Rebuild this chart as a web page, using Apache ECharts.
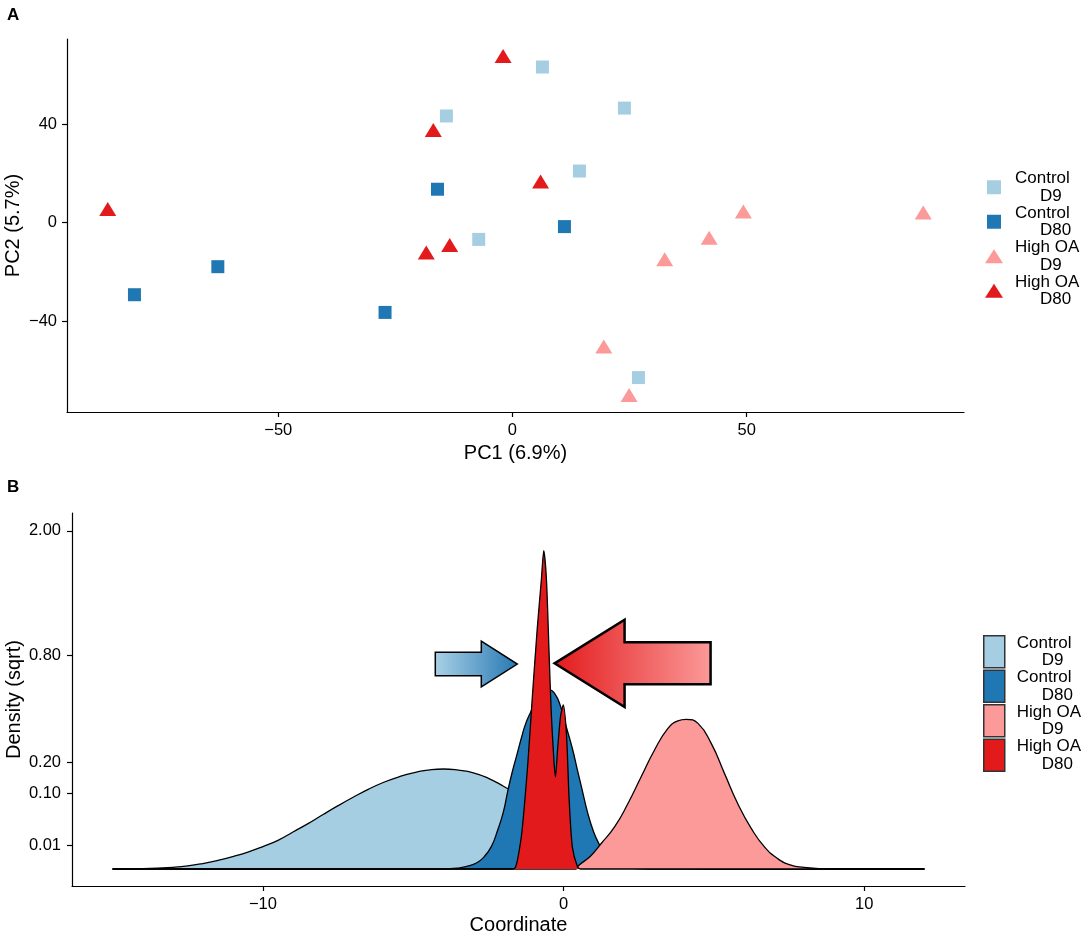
<!DOCTYPE html>
<html>
<head>
<meta charset="utf-8">
<title>PCA and density</title>
<script src="https://cdn.jsdelivr.net/npm/echarts@6.0.0/dist/echarts.min.js"></script>
<style>
  html, body { margin: 0; padding: 0; background: #fff; }
  #main { width: 1083px; height: 934px; }
</style>
</head>
<body>
<div id="main"></div>
<script>
// group names, shown on two lines in the legends
var groups = ['Control\nD9', 'Control\nD80', 'High OA\nD9', 'High OA\nD80'];

// panel A: PCA scores
var ctlD9PC1 = [-14.1, -7.2, 6.4, 23.9, 14.3, 26.9];
var ctlD9PC2 = [43.4, -6.8, 63.3, 46.6, 21.0, -63.0];
var ctlD80PC1 = [-80.7, -62.9, -27.2, -16.0, 11.1];
var ctlD80PC2 = [-29.3, -17.9, -36.5, 13.6, -1.6];
var oaD9PC1 = [49.3, 87.7, 42.0, 32.5, 19.5, 24.9];
var oaD9PC2 = [4.5, 4.1, -6.1, -14.9, -50.4, -70.1];
var oaD80PC1 = [-86.4, -16.9, -18.4, -13.4, -2.0, 6.0];
var oaD80PC2 = [5.6, 37.7, -12.1, -9.1, 67.8, 16.7];

// panel B: density curves (coordinate, density)
var ctlD9X = [-15, -14.5, -14, -13.5, -13, -12.5, -12, -11.5, -11, -10.5, -10, -9.5, -9, -8.5, -8, -7.5, -7, -6.5, -6,
              -5.5, -5, -4.5, -4, -3.5, -3, -2.5, -2, -1.5, -1, -0.5, 0, 0.5, 1, 1.5, 2, 2.5, 3, 3.5, 4, 4.5, 5, 12];
var ctlD9Dens = [0, 0.000001, 0.000004, 0.000016, 0.000049, 0.00017, 0.00053, 0.0013, 0.0027, 0.005, 0.0088, 0.0144,
                 0.024, 0.0361, 0.052, 0.0702, 0.09, 0.111, 0.131, 0.148, 0.162, 0.171, 0.175, 0.171, 0.162, 0.144, 0.12,
                 0.096, 0.073, 0.053, 0.036, 0.0225, 0.0128, 0.0064, 0.0028, 0.0011, 0.00032, 0.00008, 0.000016,
                 0.000001, 0, 0];
var ctlD80X = [-15, -4, -3.5, -3.2, -2.9, -2.65, -2.4, -2.2, -2.0, -1.85, -1.7, -1.55, -1.4, -1.27, -1.1, -0.9, -0.7, -0.5,
               -0.3, -0.1, 0.1, 0.3, 0.46, 0.6, 0.79, 1.0, 1.2, 1.4, 1.7, 2.0, 2.4, 2.8, 12];
var ctlD80Dens = [0, 0, 0.000016, 0.000144, 0.000625, 0.0025, 0.009, 0.0256, 0.0576, 0.109, 0.168, 0.23, 0.3025, 0.366,
                  0.429, 0.497, 0.54, 0.5625, 0.54, 0.462, 0.348, 0.25, 0.171, 0.116, 0.0576, 0.024, 0.01, 0.0036,
                  0.00073, 0.0001, 0.000004, 0, 0];
var oaD9X = [-15, 0.4, 0.5, 0.9, 1.25, 1.7, 2.14, 2.58, 3.02, 3.47, 3.8, 4.08, 4.47, 4.91, 5.35, 5.79, 6.24, 6.68, 7.12,
             7.56, 8.0, 8.5, 9.0, 12];
var oaD9Dens = [0, 0, 0.000225, 0.003, 0.0114, 0.0313, 0.0751, 0.149, 0.247, 0.346, 0.384, 0.392, 0.371, 0.276, 0.16,
                0.075, 0.0289, 0.0086, 0.0019, 0.00026, 0.00005, 0.000004, 0, 0];
var oaD80X = [-15, -1.7, -1.6, -1.5, -1.38, -1.19, -1.04, -0.88, -0.74, -0.66, -0.57, -0.49, -0.41, -0.32, -0.27, -0.2, -0.1,
              -0.01, 0.1, 0.18, 0.29, 0.46, 0.57, 12];
var oaD80Dens = [0, 0, 0.00005, 0.0036, 0.0266, 0.195, 0.518, 1.0, 1.462, 1.772, 1.462, 0.865, 0.424, 0.2025, 0.149, 0.25,
                 0.41, 0.471, 0.306, 0.091, 0.0086, 0.0001, 0, 0];

// tick labels
var pcaXTicks = [-50, 0, 50];
var pcaYTicks = [-40, 0, 40];
var coordTicks = [-10, 0, 10];
var densTicks = [0.01, 0.10, 0.20, 0.80, 2.00];

// arrow tips in data units (coordinate, density)
var blueArrowTip = [-1.54, 0.735];
var redArrowTip = [-0.3, 0.74];

var colors = ['#A6CEE3', '#1F78B4', '#FB9A99', '#E31A1C'];
var font = '"Liberation Sans", Arial, sans-serif';
var squareIcon = 'path://M0,0L10,0L10,10L0,10Z';
var triIcon = 'path://M0,13L8.5,0L17,13Z';

function zip(a, b) {
  var out = [];
  for (var i = 0; i < a.length; i++) out.push([a[i], b[i]]);
  return out;
}
function sqrtPairs(xs, ds) {
  var out = [];
  for (var i = 0; i < xs.length; i++) out.push([xs[i], Math.sqrt(ds[i])]);
  return out;
}
function minus(v) { return String(v).replace('-', '\u2212'); }

var scatterData = [zip(ctlD9PC1, ctlD9PC2), zip(ctlD80PC1, ctlD80PC2), zip(oaD9PC1, oaD9PC2), zip(oaD80PC1, oaD80PC2)];
var densData = [sqrtPairs(ctlD9X, ctlD9Dens), sqrtPairs(ctlD80X, ctlD80Dens), sqrtPairs(oaD9X, oaD9Dens), sqrtPairs(oaD80X, oaD80Dens)];

var tickStyle = { length: 5, lineStyle: { color: '#000', width: 1.2 } };
var labelStyle = { color: '#000', fontSize: 16.5, fontFamily: font };
function axis(extra, ticks, labelExtra) {
  return Object.assign({
    type: 'value',
    nameLocation: 'middle',
    nameMoveOverlap: false,
    axisLine: { onZero: false, lineStyle: { color: '#000', width: 1.2 } },
    axisTick: Object.assign({ customValues: ticks }, tickStyle),
    axisLabel: Object.assign({ customValues: ticks }, labelStyle, labelExtra),
    splitLine: { show: false },
    nameTextStyle: { color: '#000', fontSize: 20, fontFamily: font }
  }, extra);
}

var legendRich = {
  a: { fontSize: 17, lineHeight: 17.5, color: '#000', fontFamily: font, padding: [0, 0, 0, 7] },
  b: { fontSize: 17, lineHeight: 17.5, color: '#000', fontFamily: font, padding: [0, 0, 0, 32] }
};
function legendFmt(name) {
  var p = name.split('\n');
  return '{a|' + p[0] + '}\n{b|' + p[1] + '}';
}

var series = [];
groups.forEach(function (g, i) {
  series.push({
    name: g,
    type: 'scatter',
    xAxisIndex: 0,
    yAxisIndex: 0,
    symbol: i < 2 ? 'rect' : 'triangle',
    symbolSize: i < 2 ? 13 : [17, 14],
    itemStyle: { color: colors[i], opacity: 1 },
    data: scatterData[i]
  });
});
groups.forEach(function (g, i) {
  series.push({
    name: g,
    type: 'line',
    xAxisIndex: 1,
    yAxisIndex: 1,
    z: 3 + i,
    showSymbol: false,
    symbol: 'none',
    smooth: i === 3 ? 0.25 : 0.5,
    itemStyle: { color: colors[i] },
    lineStyle: { color: '#000', width: 1.3 },
    areaStyle: { color: colors[i], opacity: 1 },
    data: densData[i]
  });
});

var chart = echarts.init(document.getElementById('main'));
var option = {
  backgroundColor: '#fff',
  animation: false,
  title: [
    { text: 'A', left: 7, top: 7, padding: 0, textStyle: { fontSize: 17, fontWeight: 'bold', color: '#000', fontFamily: font } },
    { text: 'B', left: 7, top: 479, padding: 0, textStyle: { fontSize: 17, fontWeight: 'bold', color: '#000', fontFamily: font } }
  ],
  grid: [
    { left: 67, right: 119, top: 39, height: 373, containLabel: false, outerBoundsMode: 'none' },
    { left: 72, right: 118, top: 513, height: 373, containLabel: false, outerBoundsMode: 'none' }
  ],
  legend: [
    {
      orient: 'vertical', left: 985, top: 170, padding: 0, itemGap: 0,
      itemWidth: 18, itemHeight: 14,
      formatter: legendFmt,
      textStyle: { rich: legendRich },
      data: groups.map(function (g, i) {
        return { name: g, icon: i < 2 ? squareIcon : triIcon, itemStyle: { color: colors[i], borderWidth: 0 } };
      })
    },
    {
      orient: 'vertical', left: 983, top: 634.5, padding: 0, itemGap: 0,
      itemWidth: 21, itemHeight: 32,
      formatter: legendFmt,
      textStyle: { rich: legendRich },
      data: groups.map(function (g, i) {
        return { name: g, icon: 'rect', itemStyle: { color: colors[i], borderColor: '#333', borderWidth: 1.5 } };
      })
    }
  ],
  xAxis: [
    axis({ gridIndex: 0, min: -95.1, max: 96.4, name: 'PC1 (6.9%)', nameGap: 31 }, pcaXTicks,
         { margin: 10, formatter: minus }),
    axis({ gridIndex: 1, min: -16.35, max: 13.35, name: 'Coordinate', nameGap: 29 }, coordTicks,
         { margin: 10, formatter: minus })
  ],
  yAxis: [
    axis({ gridIndex: 0, min: -77, max: 74.7, name: 'PC2 (5.7%)', nameGap: 44 }, pcaYTicks,
         { margin: 10, formatter: minus }),
    axis({ gridIndex: 1, min: -0.071, max: 1.489, name: 'Density (sqrt)', nameGap: 48 }, densTicks.map(Math.sqrt),
         { margin: 11, formatter: function (v) { return (v * v).toFixed(2); } })
  ],
  series: series
};
chart.setOption(option);

// arrows pointing at the High OA D80 peak
function drawArrows() {
  var bt = chart.convertToPixel({ xAxisIndex: 1, yAxisIndex: 1 }, [blueArrowTip[0], Math.sqrt(blueArrowTip[1])]);
  var rt = chart.convertToPixel({ xAxisIndex: 1, yAxisIndex: 1 }, [redArrowTip[0], Math.sqrt(redArrowTip[1])]);
  var bx = bt[0], by = bt[1], rx = rt[0], ry = rt[1];
  chart.setOption({
    graphic: [
      {
        type: 'polygon', z: 100,
        shape: { points: [[bx - 82, by - 11.7], [bx - 36, by - 11.7], [bx - 36, by - 22.8], [bx, by],
                          [bx - 36, by + 22.8], [bx - 36, by + 11.7], [bx - 82, by + 11.7]] },
        style: {
          fill: new echarts.graphic.LinearGradient(0, 0, 1, 0, [
            { offset: 0, color: '#AAD1E6' }, { offset: 1, color: '#2678B3' }
          ]),
          stroke: '#000', lineWidth: 1.5
        }
      },
      {
        type: 'polygon', z: 100,
        shape: { points: [[rx, ry], [rx + 70, ry - 43.6], [rx + 70, ry - 21], [rx + 156, ry - 21],
                          [rx + 156, ry + 21], [rx + 70, ry + 21], [rx + 70, ry + 43.6]] },
        style: {
          fill: new echarts.graphic.LinearGradient(0, 0, 1, 0, [
            { offset: 0, color: '#E31A1C' }, { offset: 1, color: '#FB9A99' }
          ]),
          stroke: '#000', lineWidth: 2.5
        }
      }
    ]
  });
}
drawArrows();

window.addEventListener('resize', function () {
  chart.resize();
  drawArrows();
});
</script>
</body>
</html>
